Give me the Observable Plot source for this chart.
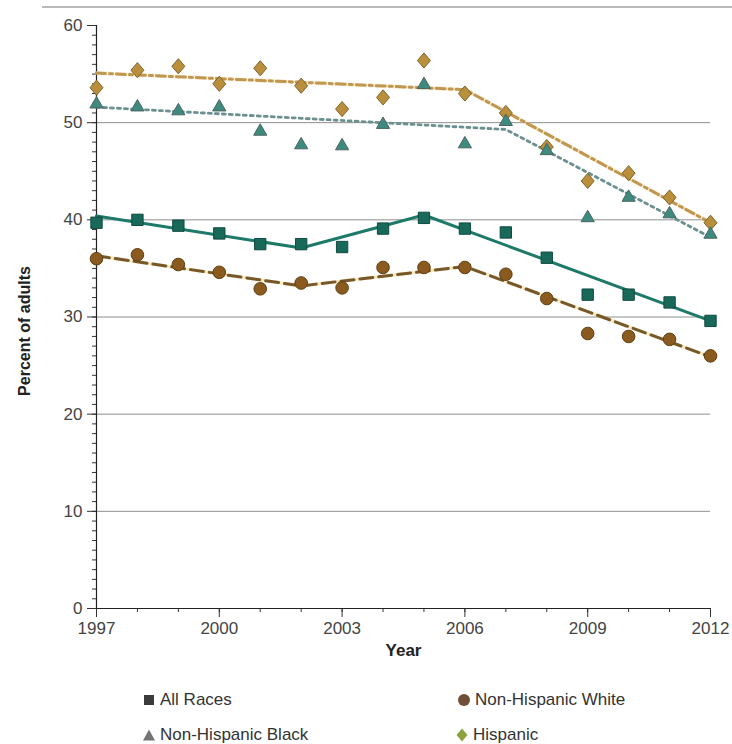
<!DOCTYPE html>
<html>
<head>
<meta charset="utf-8">
<script src="https://cdn.jsdelivr.net/npm/d3@7"></script>
<script src="https://cdn.jsdelivr.net/npm/@observablehq/plot@0.6"></script>
<style>
  html, body { margin: 0; padding: 0; background: #ffffff; }
  body { width: 732px; height: 744px; position: relative; overflow: hidden; font-family: "Liberation Sans", Arial, sans-serif; }
  #toprule { position: absolute; left: 42px; right: 0; top: 6px; height: 2px; background: #b9b9b9; }
  #chart { position: absolute; left: 0; top: 0; }
  .leg { position: absolute; font-size: 17px; color: #333; display: flex; align-items: center; white-space: nowrap; }
  .leg svg { margin-right: 2px; }
</style>
</head>
<body>
<div id="toprule"></div>
<div id="chart"></div>
<script>
// ---- data ----
const years = [1997, 1998, 1999, 2000, 2001, 2002, 2003, 2004, 2005, 2006, 2007, 2008, 2009, 2010, 2011, 2012];
const allRaces = [39.7, 40.0, 39.4, 38.6, 37.5, 37.5, 37.2, 39.1, 40.2, 39.1, 38.7, 36.1, 32.3, 32.3, 31.5, 29.6];
const nhWhite  = [36.0, 36.4, 35.4, 34.6, 32.9, 33.5, 33.0, 35.1, 35.1, 35.1, 34.4, 31.9, 28.3, 28.0, 27.7, 26.0];
const nhBlack  = [51.9, 51.6, 51.2, 51.6, 49.1, 47.7, 47.6, 49.8, 53.9, 47.8, 50.1, 47.1, 40.2, 42.3, 40.6, 38.5];
const hispanic = [53.6, 55.4, 55.8, 54.0, 55.6, 53.8, 51.4, 52.6, 56.4, 53.0, 51.0, 47.5, 44.0, 44.8, 42.3, 39.7];

// fitted trend lines (joinpoints)
const allTrendYears = [1997, 2002, 2005, 2012];
const allTrendVals  = [40.4, 37.1, 40.5, 29.6];
const whiteTrendYears = [1997, 2002, 2006, 2012];
const whiteTrendVals  = [36.3, 33.2, 35.2, 25.9];
const blackTrendYears = [1997, 2007, 2012];
const blackTrendVals  = [51.6, 49.3, 38.2];
const hispTrendYears = [1997, 2006, 2012];
const hispTrendVals  = [55.1, 53.4, 39.7];

const yMajorTicks = [0, 10, 20, 30, 40, 50, 60];
const yMinorTicks = d3.range(0, 61, 1);
const gridVals = [10, 20, 30, 40, 50];
const xMajorTicks = [1997, 2000, 2003, 2006, 2009, 2012];
const xMinorTicks = years;

const seriesNames = ["All Races", "Non-Hispanic White", "Non-Hispanic Black", "Hispanic"];

// ---- build tables ----
const pts = (vals) => years.map((y, i) => ({year: y, value: vals[i]}));
const trend = (ys, vs) => ys.map((y, i) => ({year: y, value: vs[i]}));

const diamond = {
  draw(ctx, size) {
    const r = Math.sqrt(size / Math.PI);
    const w = r * 1.05, h = r * 1.22;
    ctx.moveTo(0, -h); ctx.lineTo(w, 0); ctx.lineTo(0, h); ctx.lineTo(-w, 0); ctx.closePath();
  }
};

const chart = Plot.plot({
  width: 732,
  height: 675,
  marginLeft: 96,
  marginRight: 22,
  marginTop: 25,
  marginBottom: 67,
  style: {fontFamily: "'Liberation Sans', Arial, sans-serif", fontSize: "17px", color: "#444", background: "transparent"},
  x: {domain: [1997, 2012]},
  y: {domain: [0, 60]},
  marks: [
    Plot.ruleY(gridVals, {stroke: "#8e8e8e", strokeWidth: 1}),
    Plot.axisY({ticks: yMinorTicks, tickSize: 4, text: null, label: null, stroke: "#333"}),
    Plot.axisY({ticks: yMajorTicks, tickSize: 9, tickPadding: 5, label: null, stroke: "#333", fill: "#444"}),
    Plot.axisX({ticks: xMinorTicks, tickSize: 4, text: null, label: null, stroke: "#333"}),
    Plot.axisX({ticks: xMajorTicks, tickSize: 9, tickPadding: 4, tickFormat: d => String(d), label: null, stroke: "#333", fill: "#444"}),
    Plot.ruleX([1997], {stroke: "#222", strokeWidth: 1.2}),
    Plot.ruleY([0], {stroke: "#222", strokeWidth: 1.2}),
    Plot.text(["Percent of adults"], {frameAnchor: "left", textAnchor: "middle", rotate: -90, dx: -72, dy: 14, fontWeight: "bold", fontSize: 16, fill: "#222"}),
    Plot.text(["Year"], {frameAnchor: "bottom", dy: 47, fontWeight: "bold", fontSize: 17, fill: "#222"}),

    // trend lines
    Plot.line(trend(hispTrendYears, hispTrendVals), {x: "year", y: "value", stroke: "#f4dfa6", strokeWidth: 4, strokeOpacity: 0.45}),
    Plot.line(trend(hispTrendYears, hispTrendVals), {x: "year", y: "value", stroke: "#c09650", strokeWidth: 3, strokeDasharray: "9,4,3,4"}),
    Plot.line(trend(blackTrendYears, blackTrendVals), {x: "year", y: "value", stroke: "#6b9090", strokeWidth: 2.8, strokeDasharray: "3,4"}),
    Plot.line(trend(whiteTrendYears, whiteTrendVals), {x: "year", y: "value", stroke: "#f3d98e", strokeWidth: 3.5, strokeOpacity: 0.55}),
    Plot.line(trend(whiteTrendYears, whiteTrendVals), {x: "year", y: "value", stroke: "#76582a", strokeWidth: 3, strokeDasharray: "13,6"}),
    Plot.line(trend(allTrendYears, allTrendVals), {x: "year", y: "value", stroke: "#1e7a68", strokeWidth: 3}),

    // points
    Plot.dot(pts(hispanic), {x: "year", y: "value", symbol: diamond, r: 6.2, fill: "#b98f3c", stroke: "#7d6330", strokeWidth: 1}),
    Plot.dot(pts(nhBlack), {x: "year", y: "value", symbol: "triangle", r: 4.9, fill: "#3d8a7f", stroke: "#4d6462", strokeWidth: 1}),
    Plot.dot(pts(nhWhite), {x: "year", y: "value", symbol: "circle", r: 6.3, fill: "#8a5a1f", stroke: "#5f3f14", strokeWidth: 1}),
    Plot.dot(pts(allRaces), {x: "year", y: "value", symbol: "square", r: 6.4, fill: "#19695a", stroke: "#0f4b40", strokeWidth: 1})
  ]
});
document.getElementById("chart").appendChild(chart);

// ---- legend ----
const legendItems = [
  {name: seriesNames[0], left: 140, top: 700, shape: '<rect x="2" y="2" width="10" height="10" fill="#3b3b3b"/>'},
  {name: seriesNames[1], left: 455, top: 700, shape: '<circle cx="7" cy="7" r="6" fill="#6e4e36"/>'},
  {name: seriesNames[2], left: 140, top: 735, shape: '<path d="M7,1.5 L13,12.5 L1,12.5 Z" fill="#747474"/>'},
  {name: seriesNames[3], left: 453, top: 735, shape: '<path d="M7,0.5 L12.5,7 L7,13.5 L1.5,7 Z" fill="#8da23f"/>'}
];
for (const it of legendItems) {
  const d = document.createElement("div");
  d.className = "leg";
  d.style.left = it.left + "px";
  d.style.top = (it.top - 11) + "px";
  d.style.height = "22px";
  d.innerHTML = '<svg width="18" height="14" viewBox="0 0 14 14">' + it.shape + '</svg><span>' + it.name + '</span>';
  document.body.appendChild(d);
}
</script>
</body>
</html>
